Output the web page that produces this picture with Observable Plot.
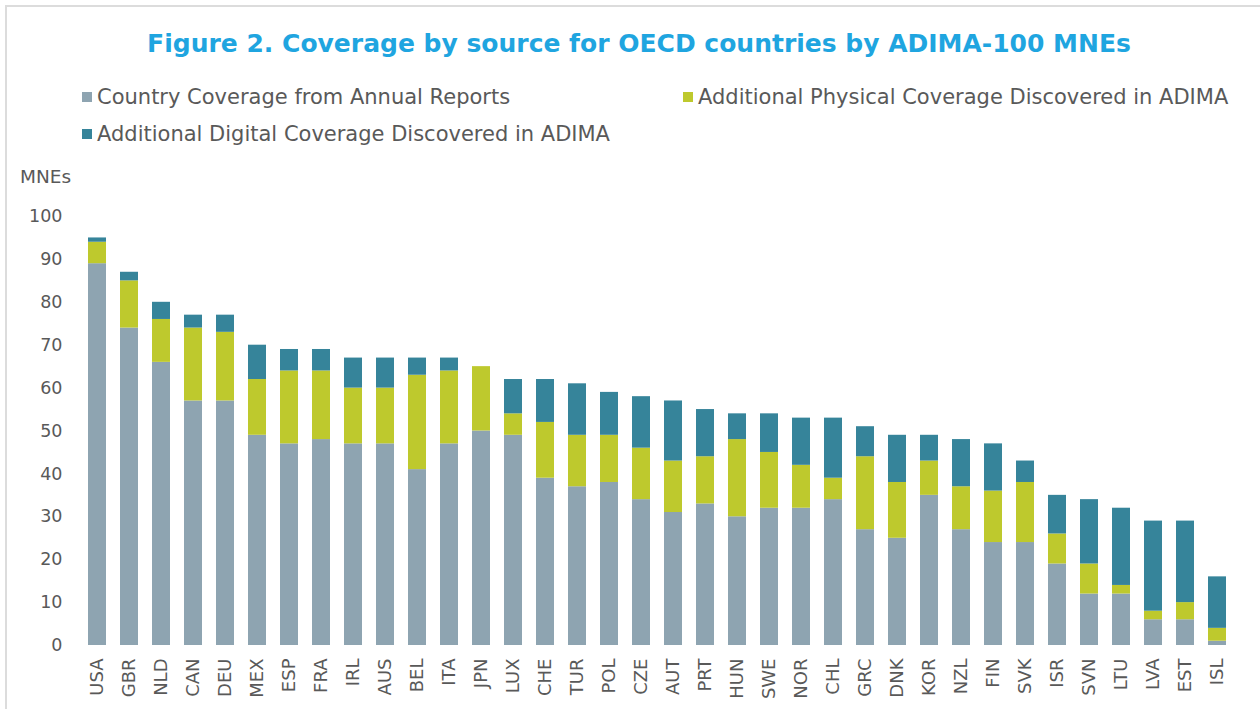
<!DOCTYPE html>
<html>
<head>
<meta charset="utf-8">
<script src="https://cdn.jsdelivr.net/npm/d3@7"></script>
<script src="https://cdn.jsdelivr.net/npm/@observablehq/plot@0.6"></script>
<style>
  html, body { margin: 0; padding: 0; background: #fff; overflow: hidden; }
  body { width: 1260px; height: 709px; position: relative; font-family: "DejaVu Sans", Verdana, sans-serif; }
  #frame { position: absolute; left: 5px; top: 5px; width: 1300px; height: 740px; border: 2px solid #dcdcdc; box-sizing: border-box; }
  #title { position: absolute; left: 0; width: 1278px; top: 29px; text-align: center; font-weight: bold; font-size: 25px; color: #1fa5e0; white-space: nowrap; }
  #legend { position: absolute; left: 82px; top: 83px; width: 1220px; display: flex; flex-wrap: wrap; row-gap: 9px; }
  .item { width: 601px; display: flex; align-items: center; font-size: 21px; color: #595959; line-height: 28px; white-space: nowrap; }
  .sw { width: 10px; height: 10px; margin-right: 5px; flex: none; }
  #ylabel { position: absolute; left: 20px; top: 166px; font-size: 18.5px; color: #595959; }
  #chart { position: absolute; left: 0; top: 160px; }
</style>
</head>
<body>
<div id="frame"></div>
<div id="title"></div>
<div id="legend"></div>
<div id="ylabel"></div>
<div id="chart"></div>
<script>
const titleText = "Figure 2. Coverage by source for OECD countries by ADIMA-100 MNEs";
const yLabel = "MNEs";
const countries = ["USA","GBR","NLD","CAN","DEU","MEX","ESP","FRA","IRL","AUS","BEL","ITA","JPN","LUX","CHE","TUR","POL","CZE","AUT","PRT","HUN","SWE","NOR","CHL","GRC","DNK","KOR","NZL","FIN","SVK","ISR","SVN","LTU","LVA","EST","ISL"];
const seriesNames = ["Country Coverage from Annual Reports","Additional Physical Coverage Discovered in ADIMA","Additional Digital Coverage Discovered in ADIMA"];
const seriesColors = ["#8ea4b1", "#bec92d", "#36849a"];
const annualReports = [89,74,66,57,57,49,47,48,47,47,41,47,50,49,39,37,38,34,31,33,30,32,32,34,27,25,35,27,24,24,19,12,12,6,6,1];
const physical =      [5,11,10,17,16,13,17,16,13,13,22,17,15,5,13,12,11,12,12,11,18,13,10,5,17,13,8,10,12,14,7,7,2,2,4,3];
const digital =       [1,2,4,3,4,8,5,5,7,7,4,3,0,8,10,12,10,12,14,11,6,9,11,14,7,11,6,11,11,5,9,15,18,21,19,12];
const yTicks = [0,10,20,30,40,50,60,70,80,90,100];

document.getElementById("title").textContent = titleText;
document.getElementById("ylabel").textContent = yLabel;
const leg = document.getElementById("legend");
seriesNames.forEach((s, i) => {
  const it = document.createElement("div");
  it.className = "item";
  const sw = document.createElement("span");
  sw.className = "sw";
  sw.style.background = seriesColors[i];
  const t = document.createElement("span");
  t.textContent = s;
  it.appendChild(sw); it.appendChild(t);
  leg.appendChild(it);
});

const seriesValues = [annualReports, physical, digital];
const rows = [];
countries.forEach((c, ci) => {
  seriesNames.forEach((s, si) => {
    rows.push({country: c, series: s, value: seriesValues[si][ci]});
  });
});

const chart = Plot.plot({
  width: 1260,
  height: 549,
  marginTop: 56,
  marginBottom: 64,
  marginLeft: 77,
  marginRight: 23,
  style: { fontFamily: "'DejaVu Sans', Verdana, sans-serif", color: "#595959", background: "transparent" },
  x: { domain: countries, paddingInner: 0.44, paddingOuter: 0.22, label: null },
  y: { domain: [0, 100], label: null },
  color: { domain: seriesNames, range: seriesColors },
  marks: [
    Plot.gridY(yTicks, { stroke: "#d9d9d9", strokeOpacity: 1, strokeWidth: 1.5, x1: 87 }),
    Plot.barY(rows, { x: "country", y: "value", fill: "series", order: seriesNames }),
    Plot.axisY(yTicks, { tickSize: 0, tickPadding: 15, fontSize: 17.5, fill: "#595959", label: null }),
    Plot.axisX({ tickSize: 0, tickPadding: 13, tickRotate: -90, fontSize: 18, fill: "#595959", label: null })
  ]
});
document.getElementById("chart").appendChild(chart);
</script>
</body>
</html>
